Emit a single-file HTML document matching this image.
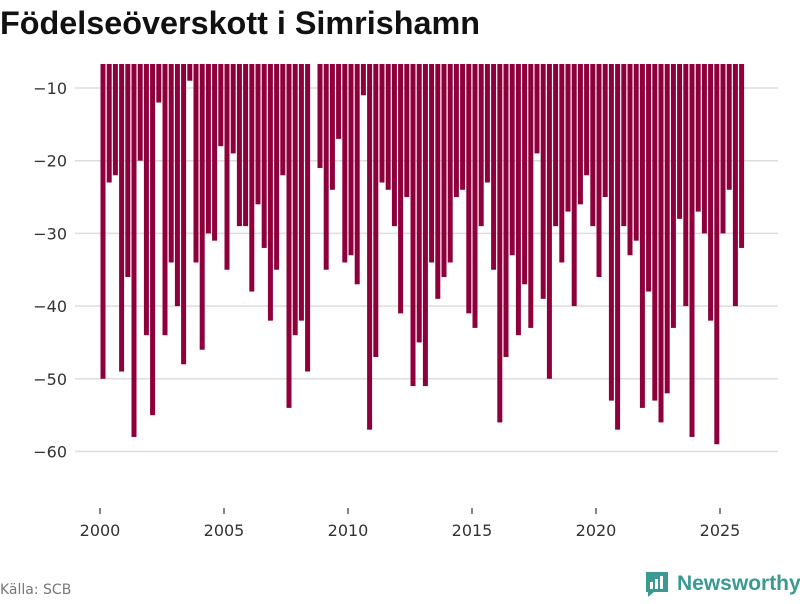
<!DOCTYPE html>
<html><head><meta charset="utf-8"><style>
body{margin:0;background:#fff;width:800px;height:600px;overflow:hidden;font-family:"DejaVu Sans","Liberation Sans",sans-serif}
</style></head><body>
<svg id="chart" width="800" height="600" xmlns="http://www.w3.org/2000/svg">
<text x="0" y="34" font-size="32" font-weight="bold" fill="#111" font-family="Liberation Sans, sans-serif" textLength="480" lengthAdjust="spacingAndGlyphs">Födelseöverskott i Simrishamn</text>
<g id="grid"></g><g id="bars"></g><g id="xticks"></g>
<text x="0" y="594" font-size="14" fill="#777">Källa: SCB</text>
<g>
<path d="M646 572 h22 v20 h-14 l-6 5 v-5 h-2 z" fill="#3a9a92"/>
<rect x="650" y="582" width="3" height="7" fill="#fff"/><rect x="655" y="579" width="3" height="10" fill="#fff"/><rect x="660" y="576" width="3" height="13" fill="#fff"/>
<text x="677" y="590" font-size="21" font-weight="bold" fill="#3a9a92" font-family="Liberation Sans, sans-serif">Newsworthy</text>
</g>
</svg>
<script>
const years=[2000,2001,2002,2003,2004,2005,2006,2007,2008,2009,2010,2011,2012,2013,2014,2015,2016,2017,2018,2019,2020,2021,2022,2023,2024,2025];
const values=[-50,-23,-22,-49,-36,-58,-20,-44,-55,-12,-44,-34,-40,-48,-9,-34,-46,-30,-31,-18,-35,-19,-29,-29,-38,-26,-32,-42,-35,-22,-54,-44,-42,-49,null,-21,-35,-24,-17,-34,-33,-37,-11,-57,-47,-23,-24,-29,-41,-25,-51,-45,-51,-34,-39,-36,-34,-25,-24,-41,-43,-29,-23,-35,-56,-47,-33,-44,-37,-43,-19,-39,-50,-29,-34,-27,-40,-26,-22,-29,-36,-25,-53,-57,-29,-33,-31,-54,-38,-53,-56,-52,-43,-28,-40,-58,-27,-30,-42,-59,-30,-24,-40,-32];
const yTicks=[-10,-20,-30,-40,-50,-60];
const xTicks=[2000,2005,2010,2015,2020,2025];
const NS="http://www.w3.org/2000/svg";
const yTop=-6.7;
function y(v){return 88+(-10-v)*7.27;}
function x(t){return 100+(t-2000)*24.8;}
const grid=document.getElementById('grid'),bars=document.getElementById('bars'),xt=document.getElementById('xticks');
yTicks.forEach(v=>{
 const l=document.createElementNS(NS,'line');
 
 
 l.setAttribute('x1',75);l.setAttribute('x2',778);l.setAttribute('y1',y(v));l.setAttribute('y2',y(v));
 l.setAttribute('stroke','#ddd');l.setAttribute('stroke-width','1.5');grid.appendChild(l);
 const t=document.createElementNS(NS,'text');
 
 
 t.setAttribute('x',67);t.setAttribute('y',y(v)+6);t.setAttribute('text-anchor','end');
 t.setAttribute('font-size','16');t.setAttribute('fill','#333');t.textContent='\u2212'+Math.abs(v);grid.appendChild(t);
});
values.forEach((v,i)=>{
 if(v===null)return;
 const r=document.createElementNS(NS,'rect');
 
 
 const t=years[0]+i/4;
 r.setAttribute('x',x(t)+0.5);r.setAttribute('width',5);
 r.setAttribute('y',y(yTop));r.setAttribute('height',y(v)-y(yTop));
 r.setAttribute('fill','#8e003b');bars.appendChild(r);
});
xTicks.forEach(yr=>{
 const l=document.createElementNS(NS,'line');
 
 
 l.setAttribute('x1',x(yr));l.setAttribute('x2',x(yr));l.setAttribute('y1',508);l.setAttribute('y2',514);
 l.setAttribute('stroke','#444');l.setAttribute('stroke-width','1.3');xt.appendChild(l);
 const t=document.createElementNS(NS,'text');
 
 
 t.setAttribute('x',x(yr));t.setAttribute('y',536);t.setAttribute('text-anchor','middle');
 t.setAttribute('font-size','16');t.setAttribute('fill','#333');t.textContent=yr;xt.appendChild(t);
});
</script>
</body></html>
